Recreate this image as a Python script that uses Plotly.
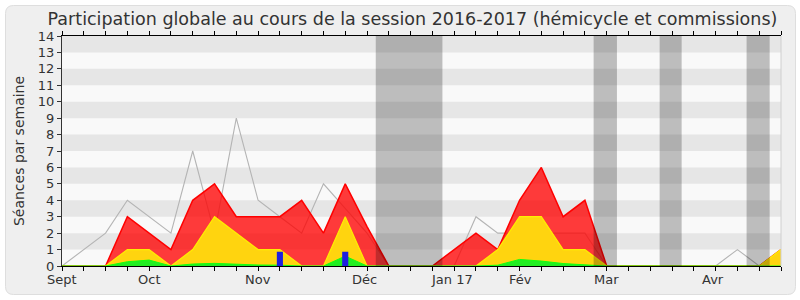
import plotly.graph_objects as go

weeks = list(range(34))
median_seances = [0, 1, 2, 4, 3, 2, 7, 2, 9, 4, 3, 2, 5, 3.5, 2, 0, 0, 0, 0, 3, 2, 2, 2, 2, 2, 0, 0, 0, 0, 0, 0, 1, 0, 1]
presences = [0, 0, 0, 3, 2, 1, 4, 5, 3, 3, 3, 4, 2, 5, 2.4, 0, 0, 0, 1, 2, 1, 4, 6, 3, 4, 0, 0, 0, 0, 0, 0, 0, 0, 1]
participations = [0, 0, 0, 1, 1, 0, 1, 3, 2, 1, 1, 0, 0, 3, 0, 0, 0, 0, 0, 0, 1, 3, 3, 1, 1, 0, 0, 0, 0, 0, 0, 0, 0, 1]
interventions = [0, 0, 0, 0.26, 0.36, 0, 0.12, 0.16, 0.1, 0.06, 0.05, 0, 0, 0.6, 0, 0, 0, 0, 0, 0, 0.05, 0.4, 0.3, 0.15, 0.07, 0, 0, 0, 0, 0, 0, 0, 0, 0]
question_weeks = [10, 13]
question_values = [0.87, 0.87]
month_labels = ["Sept", "Oct", "Nov", "Déc", "Jan 17", "Fév", "Mar", "Avr"]
month_positions = [0, 4, 8.98, 13.9, 17.9, 21.05, 25, 29.9]
vacations = [(14.4, 17.46), (24.4, 25.47), (27.43, 28.44), (31.42, 32.48)]
y_ticks = list(range(15))

FONT = "DejaVu Sans"
W, H = 800, 300
L, R, T, B = 62, 781, 36, 266
BAR_HALF = 0.14

fig = go.Figure()
fig.add_trace(go.Scatter(x=weeks, y=median_seances, mode="lines",
                         line=dict(color="#b4b4b4", width=1.1), hoverinfo="skip"))
fig.add_trace(go.Scatter(x=weeks, y=presences, mode="lines", fill="tozeroy",
                         fillcolor="rgba(255,0,0,0.77)", line=dict(color="#ff0000", width=1.5)))
fig.add_trace(go.Scatter(x=weeks, y=participations, mode="lines", fill="tozeroy",
                         fillcolor="#ffd40f", line=dict(color="#ffee00", width=1.2)))
fig.add_trace(go.Scatter(x=weeks, y=interventions, mode="lines", fill="tozeroy",
                         fillcolor="#22ee22", line=dict(color="#11ff11", width=1)))
# question bars as filled rectangles (built from data so they sit above the areas)
bx, by = [], []
for q, v in zip(question_weeks, question_values):
    bx += [q - BAR_HALF, q - BAR_HALF, q + BAR_HALF, q + BAR_HALF, q - BAR_HALF, None]
    by += [0, v, v, 0, 0, None]
fig.add_trace(go.Scatter(x=bx, y=by, mode="lines", fill="toself", fillcolor="#1f1fe0",
                         line=dict(width=0, color="#1f1fe0"), hoverinfo="skip"))

shapes = []
def px(xp):
    return (xp - L) / (R - L)
def py(yp):
    return (B - yp) / (B - T)
x0, x1, y0, y1, r = 5.5, 795.5, 5.5, 294.5, 8
path = (f"M {px(x0 + r)} {py(y0)} L {px(x1 - r)} {py(y0)} Q {px(x1)} {py(y0)} {px(x1)} {py(y0 + r)} "
        f"L {px(x1)} {py(y1 - r)} Q {px(x1)} {py(y1)} {px(x1 - r)} {py(y1)} "
        f"L {px(x0 + r)} {py(y1)} Q {px(x0)} {py(y1)} {px(x0)} {py(y1 - r)} "
        f"L {px(x0)} {py(y0 + r)} Q {px(x0)} {py(y0)} {px(x0 + r)} {py(y0)} Z")
shapes.append(dict(type="path", xref="paper", yref="paper", path=path,
                   fillcolor="#efefef", line=dict(color="#dedede", width=1), layer="below"))
shapes.append(dict(type="rect", xref="paper", yref="y", x0=0, x1=1, y0=0, y1=14,
                   fillcolor="#f9f9f9", line=dict(width=0), layer="below"))
for k in range(7):
    shapes.append(dict(type="rect", xref="paper", yref="y", x0=0, x1=1, y0=2 * k + 1, y1=2 * k + 2,
                       fillcolor="#e6e6e6", line=dict(width=0), layer="below"))
for a, b in vacations:
    shapes.append(dict(type="rect", xref="x", yref="paper", x0=a, x1=b, y0=0, y1=1,
                       fillcolor="rgba(0,0,0,0.24)", line=dict(width=0), layer="above"))
shapes.append(dict(type="line", xref="paper", yref="paper", x0=1, x1=1, y0=0, y1=1,
                   line=dict(color="#d0d0d0", width=1), layer="above"))

annotations = []
for lab, pos in zip(month_labels, month_positions):
    annotations.append(dict(x=pos, y=0, xref="x", yref="paper", text=lab, showarrow=False,
                            yanchor="top", xanchor="center", yshift=-4,
                            font=dict(family=FONT, size=13, color="#333333")))

fig.update_layout(
    width=W, height=H, autosize=False,
    margin=dict(l=L, r=W - R, t=T, b=H - B, pad=0),
    paper_bgcolor="#ffffff", plot_bgcolor="#f9f9f9",
    showlegend=False,
    shapes=shapes, annotations=annotations,
    title=dict(text="Participation globale au cours de la session 2016-2017 (hémicycle et commissions)",
               x=0.5156, xref="container", xanchor="center", y=1 - 19 / H, yref="container",
               yanchor="middle", font=dict(family=FONT, size=17.5, color="#333333")),
    xaxis=dict(range=[0, 33], tickvals=weeks, ticktext=[""] * len(weeks), ticks="outside",
               ticklen=4, tickcolor="#000000", showline=True, linecolor="#000000", linewidth=1,
               mirror="ticks", showgrid=False, zeroline=False, fixedrange=True),
    yaxis=dict(range=[0, 14], tickvals=y_ticks, ticks="outside", ticklen=4, tickcolor="#333333",
               showline=True, linecolor="#333333", linewidth=1, showgrid=False, zeroline=False,
               tickfont=dict(family=FONT, size=13, color="#333333"),
               title=dict(text="Séances par semaine", font=dict(family=FONT, size=14, color="#333333"),
                          standoff=9)),
)

fig.write_html("out.html")
